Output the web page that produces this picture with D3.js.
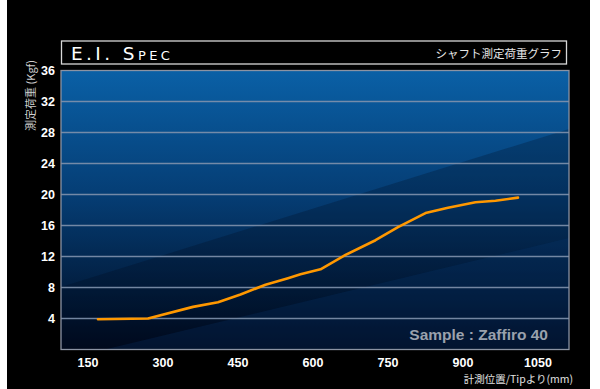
<!DOCTYPE html>
<html><head><meta charset="utf-8">
<script src="https://cdn.jsdelivr.net/npm/d3@7"></script>
<style>html,body{margin:0;padding:0;background:#fff;}svg{display:block;}</style>
</head><body>
<script>
// Data
const positions = [170, 270, 360, 410, 455, 505, 550, 575, 615, 665, 725, 770, 825, 870, 925, 965, 1010];
const loads     = [3.9, 4.0, 5.5, 6.1, 7.1, 8.35, 9.2, 9.7, 10.35, 12.2, 14.1, 15.8, 17.6, 18.3, 19.0, 19.2, 19.6];
const xTicks = [150, 300, 450, 600, 750, 900, 1050];
const yTicks = [4, 8, 12, 16, 20, 24, 28, 32, 36];
const titleText = "E.I. Spec";
const subtitleText = "シャフト測定荷重グラフ";
const yTitle = "測定荷重 (Kgf)";
const xTitle = "計測位置/Tipより(mm)";
const sampleText = "Sample : Zaffiro 40";

const W = 600, H = 389;
const L = 61, R = 569, T = 70.5, B = 349.5;

const svg = d3.select("body").append("svg").attr("width", W).attr("height", H);
const defs = svg.append("defs");

const x = d3.scaleLinear().domain([96, 1112]).range([L, R]);
const y = d3.scaleLinear().domain([0, 36]).range([B, T]);

// black backdrop
svg.append("rect").attr("x", 7).attr("y", 0).attr("width", 583).attr("height", H).attr("fill", "#000");

// title box
svg.append("rect").attr("x", 61.5).attr("y", 41).attr("width", 505).attr("height", 23)
  .attr("fill", "#000").attr("stroke", "#d8d8d8").attr("stroke-width", 1.3);
svg.append("text").attr("x", 71).attr("y", 59.5).text(titleText)
  .attr("fill", "#fff").attr("font-family", "DejaVu Sans, sans-serif").attr("font-size", 18.5)
  .attr("font-variant", "small-caps").attr("letter-spacing", 3.4).attr("font-weight", "normal");
svg.append("text").attr("x", 562).attr("y", 57.5).attr("text-anchor", "end").text(subtitleText)
  .attr("fill", "#e6e6e6").attr("font-family", "Noto Sans CJK JP, sans-serif").attr("font-size", 11.5);

// plot background gradient
const g1 = defs.append("linearGradient").attr("id", "bg").attr("x1", 0).attr("y1", 0).attr("x2", 0).attr("y2", 1);
g1.append("stop").attr("offset", "0%").attr("stop-color", "#0a60a6");
g1.append("stop").attr("offset", "45%").attr("stop-color", "#053d74");
g1.append("stop").attr("offset", "100%").attr("stop-color", "#000a1e");
svg.append("rect").attr("x", L).attr("y", T).attr("width", R - L).attr("height", B - T).attr("fill", "url(#bg)");

const clip = defs.append("clipPath").attr("id", "pc");
clip.append("rect").attr("x", L).attr("y", T).attr("width", R - L).attr("height", B - T);
const bands = svg.append("g").attr("clip-path", "url(#pc)");
// darker diagonal region
bands.append("path").attr("d", `M${L},${287} L${R},${129} L${R},${B} L${L},${B} Z`)
  .attr("fill", "#000818").attr("opacity", 0.24);
// lighter lower-right band
bands.append("path").attr("d", `M${L},${360} L${R},${238} L${R},${B} L${L},${B} Z`)
  .attr("fill", "#0a3a78").attr("opacity", 0.22);

// gridlines
svg.append("g").selectAll("line").data(yTicks.filter(d => d < 36)).join("line")
  .attr("x1", L).attr("x2", R).attr("y1", d => y(d)).attr("y2", d => y(d))
  .attr("stroke", "#8092ad").attr("stroke-width", 1.4).attr("opacity", 0.9);

// border
svg.append("rect").attr("x", L).attr("y", T).attr("width", R - L).attr("height", B - T)
  .attr("fill", "none").attr("stroke", "#8b93a3").attr("stroke-width", 1.3);

// y labels
svg.append("g").selectAll("text").data(yTicks).join("text")
  .attr("x", 55).attr("y", d => y(d) + 4.5).attr("text-anchor", "end").text(d => d)
  .attr("fill", "#fff").attr("font-family", "Liberation Sans, Arial, sans-serif").attr("font-weight", "bold").attr("font-size", 12.5);
// x labels
svg.append("g").selectAll("text").data(xTicks).join("text")
  .attr("x", d => x(d)).attr("y", 367).attr("text-anchor", "middle").text(d => d)
  .attr("fill", "#fff").attr("font-family", "Liberation Sans, Arial, sans-serif").attr("font-weight", "bold").attr("font-size", 12.5);

// axis titles
svg.append("text").attr("transform", "translate(35,95.5) rotate(-90)").attr("text-anchor", "middle").text(yTitle)
  .attr("fill", "#cfcfcf").attr("font-family", "Noto Sans CJK JP, sans-serif").attr("font-size", 11);
svg.append("text").attr("x", 573).attr("y", 382.5).attr("text-anchor", "end").text(xTitle)
  .attr("fill", "#e0e0e0").attr("font-family", "Noto Sans CJK JP, sans-serif").attr("font-size", 10.5);

// sample text
svg.append("text").attr("x", 548).attr("y", 340).attr("text-anchor", "end").text(sampleText)
  .attr("fill", "#9aa1ad").attr("font-family", "Liberation Sans, Arial, sans-serif").attr("font-weight", "bold").attr("font-size", 15.5);

// line
const line = d3.line().x((d, i) => x(positions[i])).y(d => y(d));
svg.append("path").datum(loads).attr("d", line).attr("fill", "none")
  .attr("stroke", "#ff9800").attr("stroke-width", 2.6).attr("stroke-linejoin", "round").attr("stroke-linecap", "round");
</script>
</body></html>
